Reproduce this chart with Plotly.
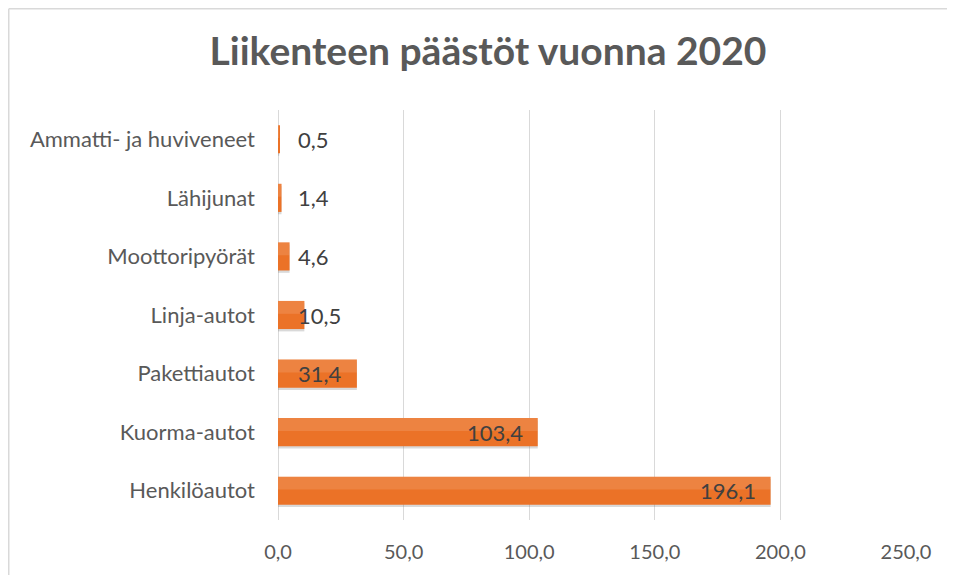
import plotly.graph_objects as go

categories = ["Ammatti- ja huviveneet", "Lähijunat", "Moottoripyörät", "Linja-autot",
              "Pakettiautot", "Kuorma-autot", "Henkilöautot"]
values = [0.5, 1.4, 4.6, 10.5, 31.4, 103.4, 196.1]
title_text = "Liikenteen päästöt vuonna 2020"
x_ticks = [0, 50, 100, 150, 200, 250]

FONT = "Lato, Open Sans, sans-serif"
OFF = 8  # page body margin
W, H = 955 - OFF, 575 - OFF
L, T = 278 - OFF, 110 - OFF
pw, ph = 628, 410
R, B = W - L - pw, H - T - ph

fig = go.Figure()
# shadow
fig.add_trace(go.Bar(y=categories, x=values, orientation="h", width=0.48, offset=-0.20,
                     marker=dict(color="rgba(120,120,120,0.28)", line=dict(width=0)),
                     hoverinfo="skip", showlegend=False))
# main bar
fig.add_trace(go.Bar(y=categories, x=values, orientation="h", width=0.48, offset=-0.24,
                     marker=dict(color="#EB7227", line=dict(width=0)), showlegend=False))
# highlight (upper part)
fig.add_trace(go.Bar(y=categories, x=values, orientation="h", width=0.22, offset=-0.24,
                     marker=dict(color="rgba(255,255,255,0.12)", line=dict(width=0)),
                     hoverinfo="skip", showlegend=False))

def fmt(v):
    return f"{v:.1f}".replace(".", ",")

for c, v in zip(categories, values):
    if v > 25:
        fig.add_annotation(x=v, y=c, text=fmt(v), showarrow=False, xanchor="right",
                           xshift=-13, font=dict(family=FONT, size=22, color="#404040"))
    else:
        fig.add_annotation(x=0, y=c, text=fmt(v), showarrow=False, xanchor="left",
                           xshift=18, font=dict(family=FONT, size=22, color="#404040"))

# outer chart border: top and left edges only
bx = (0.75 - L) / pw
by = (T + ph - 0.75) / ph
fig.add_shape(type="line", xref="paper", yref="paper", x0=bx, x1=(W - 4 - L) / pw, y0=by, y1=by,
              line=dict(color="#D9D9D9", width=1.5), layer="below")
fig.add_shape(type="line", xref="paper", yref="paper", x0=bx, x1=bx, y0=(T + ph - H) / ph, y1=by,
              line=dict(color="#D9D9D9", width=1.5), layer="below")

fig.update_layout(
    width=W, height=H,
    margin=dict(l=L, r=R, t=T, b=B),
    paper_bgcolor="white", plot_bgcolor="white",
    barmode="overlay",
    separators=",.",
    title=dict(text=title_text, xref="container", yref="container", x=(488 - OFF) / W,
               xanchor="center", y=1 - (51 - OFF) / H, yanchor="middle",
               font=dict(family=FONT, size=39, color="#595959", weight="bold")),
    xaxis=dict(range=[0, 250], tickvals=x_ticks, tickformat=".1f", showgrid=True,
               gridcolor="#D9D9D9", gridwidth=1, zeroline=True, zerolinecolor="#D9D9D9",
               zerolinewidth=1, showline=False, ticks="", ticklabelstandoff=18,
               tickfont=dict(family=FONT, size=20, color="#595959"), fixedrange=True),
    yaxis=dict(autorange="reversed", showgrid=False, showline=False, ticks="",
               ticklabelstandoff=22,
               tickfont=dict(family=FONT, size=22, color="#595959"), fixedrange=True),
)

fig.write_html("out.html")
